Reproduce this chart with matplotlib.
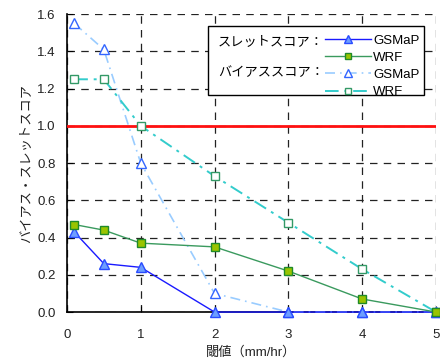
import matplotlib
matplotlib.use('Agg')
import matplotlib.pyplot as plt
from matplotlib.patches import Rectangle

plt.rcParams['font.family'] = ['Liberation Sans', 'Noto Sans CJK JP', 'DejaVu Sans']

# 閾値 (mm/hr)
thresholds = [0.1, 0.5, 1, 2, 3, 4, 5]
# スレットスコア
ts_gsmap = [0.43, 0.26, 0.24, 0.0, 0.0, 0.0, 0.0]
ts_wrf = [0.47, 0.44, 0.37, 0.35, 0.22, 0.07, 0.0]
# バイアススコア
bs_gsmap = [1.55, 1.41, 0.80, 0.10, 0.0, 0.0, 0.0]
bs_wrf = [1.25, 1.25, 1.00, 0.73, 0.48, 0.23, 0.0]

yticks = [0.0, 0.2, 0.4, 0.6, 0.8, 1.0, 1.2, 1.4, 1.6]
xticks = [0, 1, 2, 3, 4, 5]

fig = plt.figure(figsize=(4.4, 3.62), dpi=100)
ax = fig.add_axes([0.152, 0.138, 0.839, 0.823])

l1, = ax.plot(thresholds, ts_gsmap, color='#1a1aff', lw=1.0, marker='^', ms=7,
              mfc='#6d9eff', mec='#2a4cff', clip_on=False, zorder=5)
l2, = ax.plot(thresholds, ts_wrf, color='#3a9a5e', lw=1.0, marker='s', ms=6,
              mfc='#99c400', mec='#1f8a2a', clip_on=False, zorder=5)
l3, = ax.plot(thresholds, bs_gsmap, color='#99ccff', lw=1.2, ls=(0, (6, 3, 1, 3)),
              marker='^', ms=7, mfc='white', mec='#3366ff', clip_on=False, zorder=4)
l4, = ax.plot(thresholds, bs_wrf, color='#33cccc', lw=1.4, ls=(0, (7, 3, 1.5, 3)),
              marker='s', ms=6, mfc='white', mec='#339966', clip_on=False, zorder=4)

ax.axhline(1.0, color='#ff1010', lw=2, zorder=3)

ax.set_xlim(0, 5)
ax.set_ylim(0, 1.6)
ax.set_xticks(xticks)
ax.set_yticks(yticks)
ax.set_yticklabels([f'{v:.1f}' for v in yticks])
ax.tick_params(direction='in', labelsize=9.5, length=4, color='black',
               labelcolor='#222222')
ax.tick_params(axis='x', pad=12)
ax.tick_params(axis='y', pad=8)
ax.grid(True, color='#222222', lw=0.9, ls=(0, (6, 5)))
ax.spines['top'].set_visible(False)
ax.spines['right'].set_visible(False)
ax.spines['left'].set_linewidth(1.2)
ax.spines['bottom'].set_linewidth(1.2)

ax.set_xlabel('閾値（mm/hr）', fontsize=9.5, labelpad=4, color='#222222')
ax.set_ylabel('バイアス・スレットスコア', fontsize=9.5, labelpad=4, color='#222222')

# 凡例の枠と見出し
ax.add_patch(Rectangle((0.382, 0.728), 0.585, 0.232, transform=ax.transAxes,
                       facecolor='white', edgecolor='black', lw=1, zorder=6))
ax.text(0.409, 0.906, 'スレットスコア：', transform=ax.transAxes, fontsize=9.5,
        va='center', ha='left', zorder=7)
ax.text(0.409, 0.802, 'バイアススコア：', transform=ax.transAxes, fontsize=9.5,
        va='center', ha='left', zorder=7)
leg = ax.legend([l1, l2, l3, l4], ['GSMaP', 'WRF', 'GSMaP', 'WRF'],
                loc='upper left', bbox_to_anchor=(0.699, 0.932), frameon=False,
                fontsize=9.5, handlelength=3.5, handletextpad=0.15, markerscale=0.8,
                labelspacing=0.38, borderpad=0, borderaxespad=0)
leg.set_zorder(8)

fig.savefig('out.png', dpi=100)
